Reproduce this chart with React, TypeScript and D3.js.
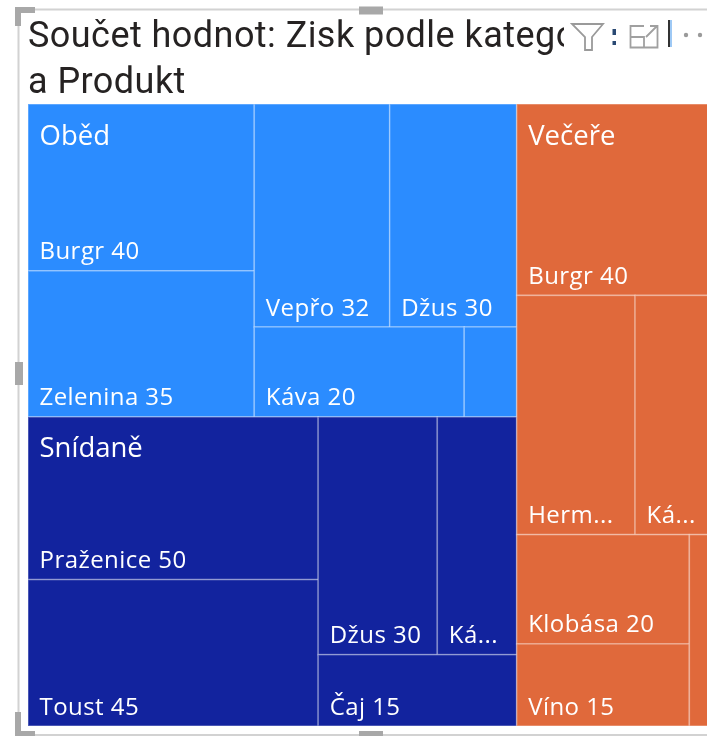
import React from "react";
import * as d3 from "d3";

const WIDTH = 707;
const HEIGHT = 736;
const titleLines = ["Součet hodnot: Zisk podle kategorie", "a Produkt"];
const categories = ["Oběd", "Snídaně", "Večeře"];
const colors = ["#2b8cff", "#12239e", "#e0693b"];

const obedLabels = ["Burgr 40", "Zelenina 35", "Vepřo 32", "Džus 30", "Káva 20", ""];
const obedValues = [40, 35, 32, 30, 20, 5];
const snidaneLabels = ["Praženice 50", "Toust 45", "Džus 30", "Ká...", "Čaj 15"];
const snidaneValues = [50, 45, 30, 20, 15];
const vecereLabels = ["Burgr 40", "Herm...", "Ká...", "Klobása 20", "Víno 15", ""];
const vecereValues = [40, 30, 20, 20, 15, 5];

type N = { dir?: "h" | "v"; children?: N[]; value?: number; label?: string; cat?: number };
const leaf = (labels: string[], values: number[], i: number, cat: number): N => ({ label: labels[i], value: values[i], cat });

const tree: N = {
  dir: "h",
  children: [
    {
      dir: "v",
      children: [
        {
          dir: "h",
          cat: 0,
          children: [
            { dir: "v", children: [leaf(obedLabels, obedValues, 0, 0), leaf(obedLabels, obedValues, 1, 0)] },
            {
              dir: "v",
              children: [
                { dir: "h", children: [leaf(obedLabels, obedValues, 2, 0), leaf(obedLabels, obedValues, 3, 0)] },
                { dir: "h", children: [leaf(obedLabels, obedValues, 4, 0), leaf(obedLabels, obedValues, 5, 0)] },
              ],
            },
          ],
        },
        {
          dir: "h",
          cat: 1,
          children: [
            { dir: "v", children: [leaf(snidaneLabels, snidaneValues, 0, 1), leaf(snidaneLabels, snidaneValues, 1, 1)] },
            {
              dir: "v",
              children: [
                { dir: "h", children: [leaf(snidaneLabels, snidaneValues, 2, 1), leaf(snidaneLabels, snidaneValues, 3, 1)] },
                leaf(snidaneLabels, snidaneValues, 4, 1),
              ],
            },
          ],
        },
      ],
    },
    {
      dir: "v",
      cat: 2,
      children: [
        leaf(vecereLabels, vecereValues, 0, 2),
        { dir: "h", children: [leaf(vecereLabels, vecereValues, 1, 2), leaf(vecereLabels, vecereValues, 2, 2)] },
        {
          dir: "h",
          children: [
            { dir: "v", children: [leaf(vecereLabels, vecereValues, 3, 2), leaf(vecereLabels, vecereValues, 4, 2)] },
            leaf(vecereLabels, vecereValues, 5, 2),
          ],
        },
      ],
    },
  ],
};

const X0 = 28, Y0 = 104, X1 = 714, Y1 = 726;

const root = d3
  .treemap<N>()
  .tile((node: any, x0, y0, x1, y1) => {
    (node.data.dir === "h" ? d3.treemapDice : d3.treemapSlice)(node, x0, y0, x1, y1);
  })
  .size([X1 - X0, Y1 - Y0])(
    d3.hierarchy<N>(tree, (d) => d.children).sum((d) => d.value ?? 0)
  ) as any;

const leaves = root.leaves();
const catNodes = root.descendants().filter((d: any) => d.data.cat !== undefined && d.children);

const LABEL = "'Open Sans','Noto Sans',sans-serif";
const TITLE = "Roboto,sans-serif";
const GREY = "#d2d2d2";
const HANDLE = "#a8a8a8";

export default function App() {
  return (
    <svg width={WIDTH} height={HEIGHT} style={{ position: "absolute", left: 0, top: 0, background: "#fff" }}>
      <defs>
        <filter id="soft" x="-2%" y="-2%" width="104%" height="104%"><feGaussianBlur stdDeviation="0.5" /></filter>
        <filter id="soft2" x="-10%" y="-10%" width="120%" height="120%"><feGaussianBlur stdDeviation="0.6" /></filter>
      </defs>
      {/* visual frame */}
      <path d={`M${WIDTH} 9.5H18.5V735H${WIDTH}`} fill="none" stroke={GREY} strokeWidth={2} />
      <g filter="url(#soft2)">
        <path d="M18 26V10H35" fill="none" stroke={HANDLE} strokeWidth={6} />
        <path d="M18 712V734H35" fill="none" stroke={HANDLE} strokeWidth={6} />
        <rect x={359} y={6.5} width={24} height={8} fill={HANDLE} />
        <rect x={359} y={731} width={24} height={5} fill={HANDLE} />
        <rect x={15} y={362} width={8} height={23} fill={HANDLE} />
      </g>

      <g filter="url(#soft)" fontFamily={TITLE} fontSize={36} letterSpacing={0.45} fill="#252423">
        <text x={28} y={47}>{titleLines[0]}</text>
        <text x={28} y={92.5}>{titleLines[1]}</text>
      </g>
      <rect x={564} y={14} width={143} height={42} fill="#fff" />
      <rect x={612.5} y={29} width={3.5} height={6} fill="#2a4a73" filter="url(#soft2)" />
      <rect x={612.5} y={41} width={3.5} height={4} fill="#2a4a73" filter="url(#soft2)" />
      <g filter="url(#soft2)" fill="none" strokeWidth={1.8}>
        <path d="M572 24H603L592 37V50H585V37Z" stroke="#9a9a9a" />
        <path d="M630.5 30V47.5H657.5V32M630.5 37H644V47M644 26H630.5V30M646 37L657 26M650 26H657.5V33" stroke="#a0a0a0" />
        <rect x={668} y={20} width={2} height={27} fill="#333" stroke="none" />
        <rect x={670} y={20} width={2} height={27} fill="#9ec9f5" stroke="none" />
        <circle cx={686} cy={35} r={2.2} fill="#9a9a9a" stroke="none" />
        <circle cx={700} cy={35} r={2.2} fill="#9a9a9a" stroke="none" />
      </g>

      <g transform={`translate(${X0},${Y0})`}>
        {leaves.map((d: any, i: number) => (
          <rect key={i} x={d.x0} y={d.y0} width={d.x1 - d.x0} height={d.y1 - d.y0}
            fill={colors[d.data.cat]} stroke="#ffffff" strokeOpacity={0.3} strokeWidth={1.6} />
        ))}
        <g filter="url(#soft)" fill="#fff" fontFamily={LABEL}>
          {leaves.map((d: any, i: number) => d.data.label ? (
            <text key={i} x={d.x0 + 11.5} y={d.y1 - 11.5} fontSize={24} letterSpacing={0.45}>{d.data.label}</text>
          ) : null)}
          {catNodes.map((d: any) => (
            <text key={d.data.cat} x={d.x0 + 11.5} y={d.y0 + 40.5} fontSize={27.5}>{categories[d.data.cat]}</text>
          ))}
        </g>
      </g>
    </svg>
  );
}
